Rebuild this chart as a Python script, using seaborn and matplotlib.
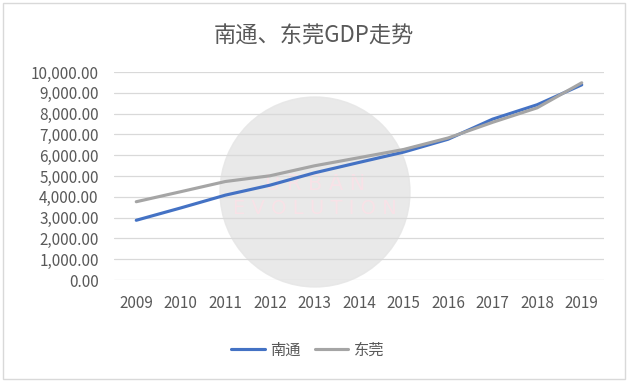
import pandas as pd
import seaborn as sns
import matplotlib.pyplot as plt
from matplotlib.patches import Circle, Rectangle
from matplotlib.ticker import FuncFormatter

years = [2009, 2010, 2011, 2012, 2013, 2014, 2015, 2016, 2017, 2018, 2019]
nantong = [2872, 3466, 4080, 4558, 5152, 5652, 6148, 6768, 7734, 8427, 9383]
dongguan = [3763, 4246, 4735, 5010, 5490, 5881, 6275, 6828, 7582, 8279, 9482]

df = pd.DataFrame({'Year': [str(y) for y in years] * 2,
                   'GDP': nantong + dongguan,
                   'City': ['南通'] * len(years) + ['东莞'] * len(years)})

sns.set_style('white')
plt.rcParams['font.family'] = ['Noto Sans CJK SC', 'DejaVu Sans']

fig = plt.figure(figsize=(6.28, 3.82), dpi=100)
ax = fig.add_axes([0.1815, 0.267, 0.7803, 0.5445])

# faint watermark behind the chart
wm = fig.add_axes([0, 0, 1, 1], zorder=-1)
wm.set_xlim(0, 628)
wm.set_ylim(382, 0)
wm.axis('off')
wm.add_patch(Circle((315, 192), 95, color='#e6e6e6', alpha=0.85))
wm.add_patch(Rectangle((3, 3), 622, 376, fill=False, ec='#d9d9d9', lw=1))
wm.text(315, 184, 'U R B A N', ha='center', va='center', fontsize=15, color='#f8e2e7', family='DejaVu Sans')
wm.text(315, 208, 'E V O L U T I O N', ha='center', va='center', fontsize=14, color='#f8e2e7', family='DejaVu Sans')
ax.patch.set_alpha(0)

sns.lineplot(data=df, x='Year', y='GDP', hue='City', palette=['#4472C4', '#A5A5A5'],
             linewidth=2.25, ax=ax, sort=False)

ax.set_ylim(0, 10000)
ax.set_xlim(-0.5, 10.5)
ax.set_yticks(range(0, 10001, 1000))
ax.yaxis.set_major_formatter(FuncFormatter(lambda v, p: f'{v:,.2f}'))
ax.grid(axis='y', color='#d9d9d9', lw=0.9)
for s in ax.spines.values():
    s.set_visible(False)
ax.tick_params(axis='both', length=0, labelsize=11, colors='#595959')
ax.tick_params(axis='y', pad=11)
ax.tick_params(axis='x', pad=11)
ax.set_xlabel('')
ax.set_ylabel('')

fig.suptitle('南通、东莞GDP走势', x=0.5, y=0.935, fontsize=16, color='#595959')
handles, labels = ax.get_legend_handles_labels()
ax.get_legend().remove()
fig.legend(handles, labels, loc='center', bbox_to_anchor=(0.49, 0.084), ncol=2, frameon=False,
           fontsize=11, labelcolor='#595959', handlelength=2.2, handletextpad=0.35,
           columnspacing=0.9)

plt.savefig('out.png', dpi=100)
